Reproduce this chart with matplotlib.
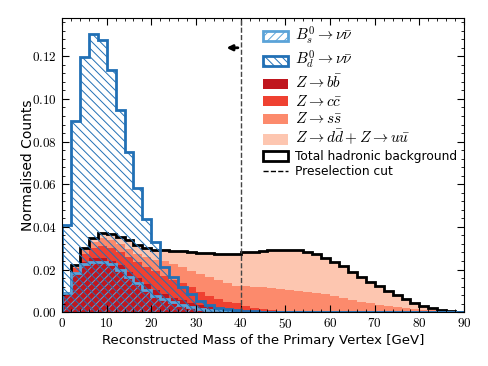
import numpy as np
import matplotlib
matplotlib.use("Agg")
import matplotlib.pyplot as plt
from matplotlib.patches import Patch
from matplotlib.lines import Line2D
from matplotlib.ticker import MultipleLocator, FuncFormatter

# 2 GeV bins between 0 and 90 GeV
bin_edges = np.arange(0, 92, 2)

# Hadronic backgrounds (normalised counts per bin)
z_bb = [0.0088, 0.0190, 0.0235, 0.0255, 0.0255, 0.0242, 0.0220, 0.0190, 0.0160, 0.0130,
        0.0105, 0.0085, 0.0068, 0.0055, 0.0044, 0.0036, 0.0028, 0.0021, 0.0015, 0.0011,
        0.0008, 0.0006, 0.0004, 0.0003, 0.0002, 0.0002, 0.0001, 0.0001, 0.0001, 0.0001,
        0.0001, 0.0001, 0.0001, 0.0, 0.0, 0.0, 0.0, 0.0, 0.0, 0.0,
        0.0, 0.0, 0.0, 0.0, 0.0]
z_cc = [0.0002, 0.0015, 0.0037, 0.0045, 0.0055, 0.0058, 0.0062, 0.0070, 0.0075, 0.0082,
        0.0087, 0.0087, 0.0085, 0.0082, 0.0076, 0.0059, 0.0047, 0.0041, 0.0035, 0.0031,
        0.0022, 0.0016, 0.0011, 0.0007, 0.0005, 0.0003, 0.0003, 0.0002, 0.0001, 0.0001,
        0.0001, 0.0001, 0.0001, 0.0001, 0.0001, 0.0001, 0.0, 0.0, 0.0, 0.0,
        0.0, 0.0, 0.0, 0.0, 0.0]
z_ss = [0.0000, 0.0007, 0.0018, 0.0030, 0.0038, 0.0038, 0.0036, 0.0038, 0.0040, 0.0046,
        0.0053, 0.0066, 0.0072, 0.0076, 0.0075, 0.0085, 0.0090, 0.0088, 0.0085, 0.0082,
        0.0092, 0.0097, 0.0101, 0.0102, 0.0101, 0.0100, 0.0097, 0.0094, 0.0090, 0.0081,
        0.0072, 0.0064, 0.0056, 0.0049, 0.0041, 0.0035, 0.0030, 0.0024, 0.0019, 0.0015,
        0.0011, 0.0009, 0.0007, 0.0004, 0.0002]
z_dduu = [0.0002, 0.0007, 0.0013, 0.0017, 0.0023, 0.0028, 0.0034, 0.0040, 0.0042, 0.0045,
          0.0049, 0.0052, 0.0062, 0.0072, 0.0087, 0.0099, 0.0111, 0.0123, 0.0136, 0.0150,
          0.0158, 0.0165, 0.0172, 0.0179, 0.0185, 0.0188, 0.0190, 0.0186, 0.0180, 0.0169,
          0.0163, 0.0151, 0.0132, 0.0116, 0.0101, 0.0087, 0.0071, 0.0056, 0.0041, 0.0030,
          0.0019, 0.0009, 0.0004, 0.0003, 0.0001]

# Signals
bs_nunu = [0.0092, 0.0183, 0.0225, 0.0237, 0.0237, 0.0225, 0.0200, 0.0165, 0.0135, 0.0105,
           0.0078, 0.0060, 0.0046, 0.0034, 0.0023, 0.0016, 0.0011, 0.0008, 0.0006, 0.0004,
           0.0003, 0.0002, 0.0002, 0.0002, 0.0002, 0.0002, 0.0002, 0.0002, 0.0002, 0.0001,
           0.0001, 0.0001, 0.0001, 0.0001, 0.0001, 0.0001, 0.0001, 0.0001, 0.0001, 0.0001,
           0.0001, 0.0001, 0.0001, 0.0001, 0.0001]
bd_nunu = [0.0407, 0.0896, 0.1195, 0.1306, 0.1275, 0.1138, 0.0947, 0.0750, 0.0581, 0.0439,
           0.0327, 0.0213, 0.0165, 0.0117, 0.0083, 0.0052, 0.0033, 0.0022, 0.0015, 0.0010,
           0.0007, 0.0005, 0.0003, 0.0003, 0.0003, 0.0002, 0.0002, 0.0002, 0.0002, 0.0002,
           0.0002, 0.0002, 0.0001, 0.0001, 0.0001, 0.0001, 0.0001, 0.0001, 0.0001, 0.0001,
           0.0001, 0.0001, 0.0001, 0.0001, 0.0001]

cut_value = 40

bkg_labels = [r"$Z \to b\bar{b}$", r"$Z \to c\bar{c}$", r"$Z \to s\bar{s}$",
              r"$Z \to d\bar{d} + Z \to u\bar{u}$"]
bkg_colors = ["#c0161e", "#ef4131", "#fc8a6c", "#fdc6b0"]
bs_color = "#5ba3d8"
bd_color = "#2170b5"

plt.rcParams["mathtext.fontset"] = "cm"
plt.rcParams["hatch.linewidth"] = 0.7

fig = plt.figure(figsize=(4.88, 3.66), dpi=100)
ax = fig.add_axes([0.127, 0.147, 0.824, 0.804])

# Stacked backgrounds
bottom = np.zeros(len(bin_edges) - 1)
for vals, col in zip([z_bb, z_cc, z_ss, z_dduu], bkg_colors):
    top = bottom + np.array(vals)
    ax.stairs(top, bin_edges, baseline=bottom, fill=True, color=col, lw=0)
    bottom = top
ax.stairs(bottom, bin_edges, color="k", lw=2)

# Signals, hatched on top
ax.stairs(bs_nunu, bin_edges, fill=True, facecolor="none", edgecolor=bs_color,
          hatch="////", lw=2)
ax.stairs(bd_nunu, bin_edges, fill=True, facecolor="none", edgecolor=bd_color,
          hatch="\\\\\\\\", lw=2)

# Preselection cut
ax.axvline(cut_value, color="#444444", ls="--", lw=1)
ax.annotate("", xy=(cut_value - 3.8, 0.124), xytext=(cut_value, 0.124),
            arrowprops=dict(arrowstyle="-|>", color="k", lw=2, mutation_scale=8))

ax.set_xlim(0, 90)
ax.set_ylim(0, 0.138)
ax.xaxis.set_major_locator(MultipleLocator(10))
ax.xaxis.set_minor_locator(MultipleLocator(2))
ax.yaxis.set_major_locator(MultipleLocator(0.02))
ax.yaxis.set_minor_locator(MultipleLocator(0.004))
ax.xaxis.set_major_formatter(FuncFormatter(lambda v, p: f"${v:.0f}$"))
ax.yaxis.set_major_formatter(FuncFormatter(lambda v, p: f"${v:.2f}$"))
ax.tick_params(which="both", direction="in", top=True, right=True, labelsize=9.5)
ax.tick_params(which="major", length=5)
ax.tick_params(which="minor", length=2.5)

ax.set_xlabel("Reconstructed Mass of the Primary Vertex [GeV]", fontsize=9.5, labelpad=2)
ax.set_ylabel("Normalised Counts", fontsize=10, labelpad=-2)

handles = [
    Patch(facecolor="none", edgecolor=bs_color, hatch="////", lw=2),
    Patch(facecolor="none", edgecolor=bd_color, hatch="\\\\\\\\", lw=2),
] + [Patch(facecolor=c, edgecolor="none") for c in bkg_colors] + [
    Patch(facecolor="none", edgecolor="k", lw=2),
    Line2D([], [], color="k", ls="--", lw=1),
]
labels = [r"$B_s^0 \to \nu\bar{\nu}$", r"$B_d^0 \to \nu\bar{\nu}$"] + bkg_labels + [
    "Total hadronic background", "Preselection cut"]
leg = ax.legend(handles, labels, loc="upper right", frameon=False, fontsize=8.8,
                handlelength=2.0, handleheight=0.9, labelspacing=0.2,
                handletextpad=0.6, borderaxespad=0.15)
for t in leg.get_texts()[:6]:
    t.set_fontsize(11)

fig.savefig("out.png", dpi=100)
